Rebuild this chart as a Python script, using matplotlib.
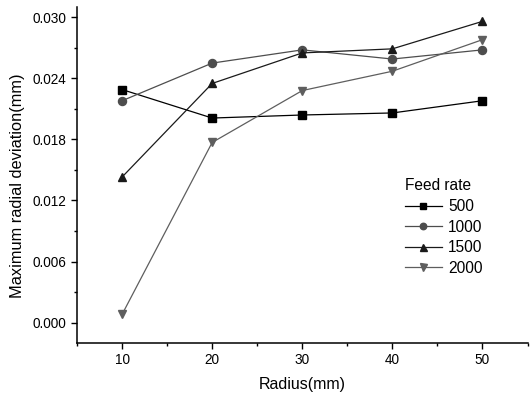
import matplotlib

matplotlib.use("Agg")
import matplotlib.pyplot as plt
from matplotlib.ticker import MultipleLocator

radius = [10, 20, 30, 40, 50]
feed_rates = ["500", "1000", "1500", "2000"]
dev_500 = [0.0229, 0.0201, 0.0204, 0.0206, 0.0218]
dev_1000 = [0.0218, 0.0255, 0.0268, 0.0259, 0.0268]
dev_1500 = [0.0143, 0.0235, 0.0265, 0.0269, 0.0296]
dev_2000 = [0.0008, 0.0177, 0.0228, 0.0247, 0.0278]

plt.rcParams.update({
    "font.family": "sans-serif",
    "font.sans-serif": ["Liberation Sans", "Arial", "DejaVu Sans"],
    "axes.spines.top": False,
    "axes.spines.right": False,
})

styles = [
    (dev_500, "s", "#000000", 5.2),
    (dev_1000, "o", "#4d4d4d", 5.8),
    (dev_1500, "^", "#1a1a1a", 6.3),
    (dev_2000, "v", "#5e5e5e", 6.3),
]

fig = plt.figure(figsize=(5.3, 3.96), dpi=100)
ax = fig.add_axes([0.1453, 0.134, 0.85, 0.848])

for name, (vals, mk, col, ms) in zip(feed_rates, styles):
    ax.plot(radius, vals, color=col, marker=mk, markersize=ms, linewidth=0.9,
            label=name)

ax.set_xlim(5, 55)
ax.set_ylim(-0.002, 0.031)
ax.set_xticks([10, 20, 30, 40, 50])
ax.set_yticks([0.0, 0.006, 0.012, 0.018, 0.024, 0.030])
ax.set_yticklabels([f"{v:.3f}" for v in ax.get_yticks()])
ax.xaxis.set_minor_locator(MultipleLocator(5))
ax.yaxis.set_minor_locator(MultipleLocator(0.003))
ax.tick_params(which="major", direction="out", length=4, width=1, labelsize=9.8)
ax.tick_params(which="minor", direction="out", length=2.5, width=1)
for s in ("left", "bottom"):
    ax.spines[s].set_linewidth(1.1)

ax.set_xlabel("Radius(mm)", fontsize=11.5, labelpad=7)
ax.set_ylabel("Maximum radial deviation(mm)", fontsize=11.8)
ax.yaxis.set_label_coords(-0.115, 0.469)

leg = ax.legend(title="Feed rate", frameon=False, fontsize=11.2,
                title_fontsize=11.2, loc="upper left",
                bbox_to_anchor=(0.727, 0.49), handlelength=2.4,
                handletextpad=0.4, labelspacing=0.36, borderaxespad=0,
                borderpad=0, markerscale=0.8)
leg._legend_box.align = "left"

fig.savefig("out.png", dpi=100)
